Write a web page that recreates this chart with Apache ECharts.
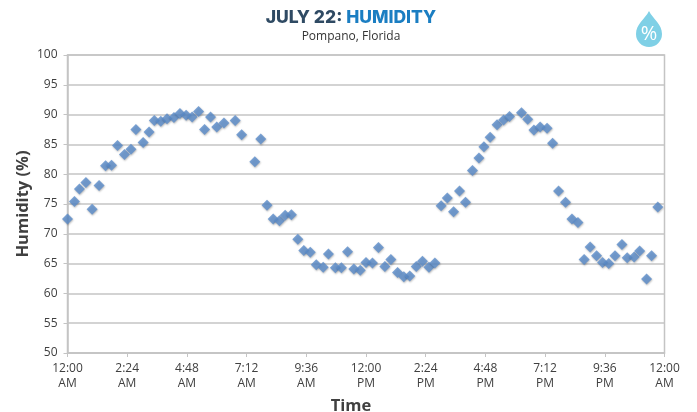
<!DOCTYPE html>
<html>
<head>
<meta charset="utf-8">
<script src="https://cdn.jsdelivr.net/npm/echarts@6/dist/echarts.min.js"></script>
<style>
  html, body { margin: 0; padding: 0; background: #fff; }
  #chart { width: 697px; height: 412px; }
</style>
</head>
<body>
<div id="chart"></div>
<script>
// hours since midnight
const hours = [0, 0.28, 0.48, 0.74, 0.99, 1.27, 1.53, 1.77, 2.01, 2.29, 2.55, 2.75, 3.04, 3.28, 3.49, 3.75, 4.0, 4.28, 4.52, 4.77, 5.01, 5.27, 5.51, 5.75, 6.0, 6.29, 6.74, 7.0, 7.53, 7.77, 8.02, 8.27, 8.52, 8.75, 9.0, 9.26, 9.5, 9.76, 10.0, 10.28, 10.49, 10.77, 11.01, 11.26, 11.51, 11.77, 12.0, 12.26, 12.5, 12.76, 13.0, 13.27, 13.52, 13.76, 14.02, 14.27, 14.53, 14.77, 15.02, 15.27, 15.52, 15.76, 16.0, 16.28, 16.54, 16.74, 16.99, 17.27, 17.53, 17.77, 18.25, 18.5, 18.75, 19.0, 19.28, 19.5, 19.74, 20.02, 20.28, 20.52, 20.77, 21.01, 21.27, 21.51, 21.76, 22.01, 22.29, 22.5, 22.78, 23.0, 23.28, 23.48, 23.73];
const humidity = [72.5, 75.4, 77.5, 78.6, 74.1, 78.1, 81.4, 81.5, 84.8, 83.3, 84.2, 87.5, 85.3, 87.1, 89.0, 88.9, 89.3, 89.5, 90.2, 89.9, 89.6, 90.5, 87.5, 89.6, 87.9, 88.6, 89.0, 86.6, 82.1, 85.9, 74.8, 72.5, 72.2, 73.1, 73.2, 69.1, 67.2, 66.9, 64.8, 64.4, 66.6, 64.3, 64.3, 67.0, 64.1, 63.9, 65.2, 65.1, 67.7, 64.5, 65.7, 63.5, 62.8, 62.9, 64.5, 65.4, 64.4, 65.1, 74.7, 76.0, 73.7, 77.2, 75.3, 80.6, 82.7, 84.6, 86.2, 88.3, 89.1, 89.7, 90.3, 89.2, 87.4, 87.9, 87.7, 85.2, 77.2, 75.3, 72.5, 71.9, 65.7, 67.8, 66.3, 65.2, 65.0, 66.3, 68.2, 66.0, 66.1, 67.1, 62.4, 66.3, 74.5];
const timeLabels = ["12:00\nAM", "2:24\nAM", "4:48\nAM", "7:12\nAM", "9:36\nAM", "12:00\nPM", "2:24\nPM", "4:48\nPM", "7:12\nPM", "9:36\nPM", "12:00\nAM"];

const bodyFont = "'Open Sans', sans-serif";
const gridColor = "#c4c4c4";

// water drop icon
echarts.graphic.registerShape("drop", echarts.graphic.extendPath(
  "M649 11 C645 19 636 24 636 34 A13 13 0 0 0 662 34 C662 24 653 19 649 11 Z"
));

const chart = echarts.init(document.getElementById("chart"), null, { renderer: "canvas" });

chart.setOption({
  backgroundColor: "#fff",
  animation: false,
  title: {
    text: "{a|JULY 22: }{b|HUMIDITY}",
    subtext: "Pompano, Florida",
    left: 346,
    top: 4,
    textAlign: "center",
    itemGap: 4,
    textStyle: {
      rich: {
        a: { fontFamily: "Inter, sans-serif", fontSize: 17.5, fontWeight: 800, color: "#2f4a63" },
        b: { fontFamily: "Inter, sans-serif", fontSize: 17.5, fontWeight: 800, color: "#1b7ec2" }
      }
    },
    subtextStyle: { fontFamily: bodyFont, fontSize: 12, color: "#333" }
  },
  grid: {
    left: 67.5,
    right: 32.5,
    top: 55,
    bottom: 59,
    outerBoundsMode: "none",
    show: true,
    borderColor: gridColor,
    borderWidth: 1.5
  },
  xAxis: {
    type: "value",
    min: 0,
    max: 24,
    interval: 2.4,
    name: "Time",
    nameLocation: "middle",
    nameGap: 45,
    nameTextStyle: { fontFamily: bodyFont, fontSize: 16.5, fontWeight: "bold", color: "#404040", padding: [0, 30, 0, 0] },
    axisLine: { onZero: false, lineStyle: { color: gridColor, width: 1.5 } },
    axisTick: { length: 4, lineStyle: { color: gridColor, width: 1 } },
    splitLine: { show: false },
    axisLabel: {
      fontFamily: bodyFont,
      fontSize: 12,
      lineHeight: 15,
      color: "#404040",
      margin: 8,
      showMinLabel: true,
      showMaxLabel: true,
      hideOverlap: false,
      formatter: function (v) { return timeLabels[Math.round(v / 2.4)]; }
    }
  },
  yAxis: {
    type: "value",
    min: 50,
    max: 100,
    interval: 5,
    name: "Humidity (%)",
    nameLocation: "middle",
    nameGap: 36,
    nameMoveOverlap: false,
    nameTextStyle: { fontFamily: bodyFont, fontSize: 16.5, fontWeight: "bold", color: "#404040" },
    axisLine: { show: true, lineStyle: { color: gridColor, width: 1.5 } },
    axisTick: { show: true, length: 4, lineStyle: { color: gridColor, width: 1 } },
    splitLine: { show: true, lineStyle: { color: gridColor, width: 1.5 } },
    axisLabel: { fontFamily: bodyFont, fontSize: 12, color: "#404040", margin: 10 }
  },
  series: [{
    name: "Humidity",
    type: "scatter",
    clip: false,
    symbol: "diamond",
    symbolSize: 11,
    data: hours.map((h, i) => [h, humidity[i]]),
    itemStyle: {
      color: "#5a8ccb",
      shadowBlur: 2,
      shadowOffsetX: 0.5,
      shadowOffsetY: 1,
      shadowColor: "rgba(0,0,0,0.35)"
    }
  }],
  graphic: [
    {
      type: "drop",
      style: { fill: "#7fd0e6" }
    },
    {
      type: "text",
      x: 649,
      y: 34,
      style: {
        text: "%",
        fill: "#fff",
        fontFamily: bodyFont,
        fontSize: 20,
        align: "center",
        verticalAlign: "middle"
      }
    }
  ]
});
</script>
</body>
</html>
